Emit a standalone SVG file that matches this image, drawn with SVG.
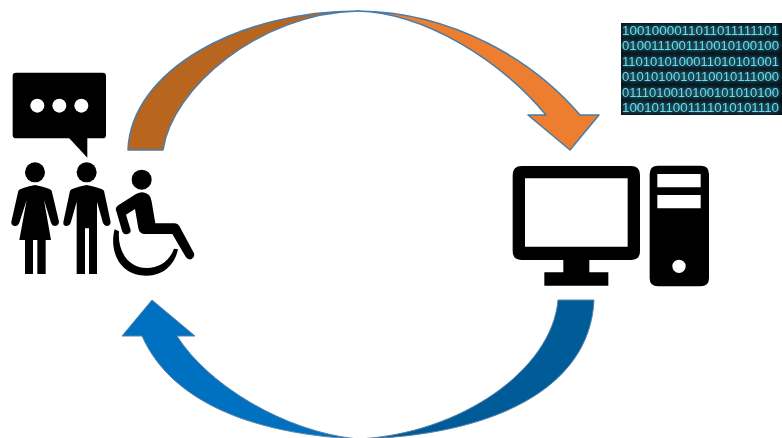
<svg xmlns="http://www.w3.org/2000/svg" width="782" height="438" viewBox="0 0 782 438">
<style>
.k{fill:#000}
.w{fill:#fff}
.top{stroke:#4A7CA8;stroke-width:1.5;stroke-linejoin:round}
.bot{stroke:#5B82A8;stroke-width:1;stroke-linejoin:round}
.bin{font-family:"Liberation Sans",Arial,sans-serif;font-size:13.5px;fill:#62DDF0}
</style>
<defs>
<filter id="glow" filterUnits="userSpaceOnUse" x="621" y="23" width="161" height="92">
<feGaussianBlur in="SourceGraphic" stdDeviation="2" result="b"/>
<feGaussianBlur in="SourceGraphic" stdDeviation="0.35" result="s"/>
<feMerge><feMergeNode in="b"/><feMergeNode in="s"/></feMerge>
</filter>
</defs>
<rect width="782" height="438" fill="#fff"/>
<g id="connectors">
<g id="arrow-top">
<path class="top" fill="#B8651F" d="M128 150C131 70 240 11 358 11C260 13 172 88 163 150Z"/>
<path class="top" fill="#ED7D2F" d="M358 11C455 12 535 62 580 115H599L570 150L528 115H546C500 60 425 13 358 11Z"/>
</g>
<g id="arrow-bottom">
<path class="bot" fill="#005C99" d="M594 300C590 390 490 436 358 439C460 434 552 370 558 300Z"/>
<path class="bot" fill="#0070C0" d="M358 439C270 435 175 410 142 336H122L152 300L195 336H177C208 385 285 432 358 439Z"/>
</g>
</g>
<g id="node-binary">
<rect x="621" y="23" width="161" height="92" fill="#05121B"/>
<g class="bin" filter="url(#glow)">
<text x="622" y="35" textLength="157" lengthAdjust="spacingAndGlyphs">1001000011011011111101</text>
<text x="622" y="50.4" textLength="157" lengthAdjust="spacingAndGlyphs">0100111001110010100100</text>
<text x="622" y="65.8" textLength="157" lengthAdjust="spacingAndGlyphs">1101010100011010101001</text>
<text x="622" y="81.2" textLength="157" lengthAdjust="spacingAndGlyphs">0101010010110010111000</text>
<text x="622" y="96.6" textLength="157" lengthAdjust="spacingAndGlyphs">0111010010100101010100</text>
<text x="622" y="112" textLength="157" lengthAdjust="spacingAndGlyphs">1001011001111010101110</text>
</g>
</g>
<g id="node-users" transform="translate(0 60) scale(.33333)">
<g id="speech-bubble">
<rect class="k" x="38" y="38" width="280" height="197" rx="10"/>
<path class="k" d="M205 232L262 293V232Z"/>
<circle class="w" cx="112" cy="137" r="21"/><circle class="w" cx="178" cy="137" r="21"/><circle class="w" cx="244" cy="137" r="21"/>
</g>
<g id="woman">
<circle class="k" cx="105" cy="337" r="30"/>
<path class="k" d="M55 392Q60 384 105 375Q150 384 155 392L177 485Q176 498 163 498Q156 497 153 488L132 420L153 540H137V642H112V540H99V642H75V540H58L80 420L58 488Q53 499 43 498Q33 496 34 485Z"/>
</g>
<g id="man">
<circle class="k" cx="260" cy="337" r="30"/>
<path class="k" d="M210 392Q215 384 260 375Q305 384 312 392L332 487Q331 498 320 498Q313 498 309 489L291 425V642H267V505H255V642H230V425L212 489Q208 499 199 498Q189 497 190 487Z"/>
</g>
<g id="wheelchair-user">
<circle class="k" cx="425" cy="359" r="30"/>
<path class="k" d="M347 447Q348 439 356 435L408 402Q430 390 447 405Q453 412 455 425L466 490H525Q533 491 538 498L582 580Q585 592 575 597Q565 601 558 592L517 522H432Q418 521 415 505L405 447L378 464L392 510Q393 521 381 523Q371 524 367 515Z"/>
<path class="k" d="M344 508C328 565 352 647 440 647C497 647 527 605 534 568L522 566C510 600 480 624 440 624C382 624 352 570 357 514Z"/>
</g>
</g>
<g id="node-computer" transform="translate(500 155) scale(.33333)">
<g id="monitor">
<path class="k" fill-rule="evenodd" d="M65 33H393Q420 33 420 60V288Q420 315 393 315H268V352H325V392H133V352H190V315H65Q38 315 38 288V60Q38 33 65 33ZM75 70V275H383V70Z"/>
</g>
<g id="tower">
<path class="k" fill-rule="evenodd" d="M474 32H602Q627 32 627 57V370Q627 394 602 394H474Q449 394 449 370V57Q449 32 474 32ZM472 57V97H602V57ZM472 120V160H602V120Z"/>
<circle class="w" cx="537" cy="334" r="20"/>
</g>
</g>
</svg>
